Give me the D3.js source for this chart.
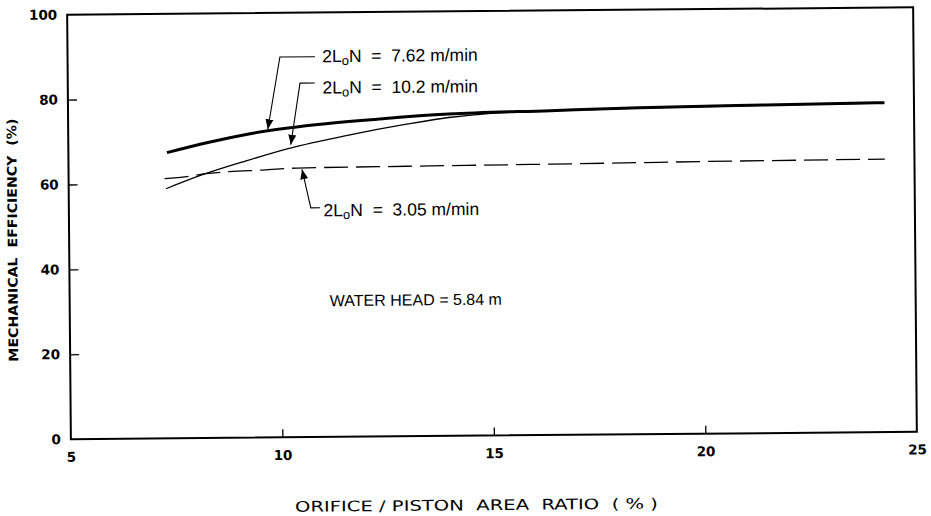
<!DOCTYPE html>
<html>
<head>
<meta charset="utf-8">
<script src="https://cdn.jsdelivr.net/npm/d3@7"></script>
<style>
  html, body { margin: 0; padding: 0; background: #fff; }
  svg { display: block; }
</style>
</head>
<body>
<svg id="chart" width="931" height="516"></svg>
<script>
// ---- data ----
const xTickValues = [5, 10, 15, 20, 25];
const yTickValues = [0, 20, 40, 60, 80, 100];

// 2LoN = 7.62 m/min (thick solid)
const ratio762 = [7.33, 8.3, 9.3, 10.9, 12.5, 14.0, 16.4, 18.5, 21.5, 24.3];
const eff762   = [67.3, 69.6, 71.6, 73.6, 74.9, 75.8, 76.4, 76.9, 77.3, 77.6];

// 2LoN = 10.2 m/min (thin solid)
const ratio102 = [7.3, 8.1, 9.2, 10.2, 11.6, 13.0, 14.0, 15.0, 16.4, 18.5, 21.5, 24.3];
const eff102   = [58.8, 61.8, 65.2, 68.0, 71.0, 73.5, 75.0, 75.9, 76.35, 76.85, 77.25, 77.5];

// 2LoN = 3.05 m/min (dashed)
const ratio305 = [7.27, 7.8, 8.2, 8.8, 9.6, 10.4, 13.0, 16.4, 20.0, 24.3];
const eff305   = [61.2, 61.6, 62.2, 62.7, 63.0, 63.4, 63.6, 63.8, 64.1, 64.3];

const seriesLabels = ["7.62 m/min", "10.2 m/min", "3.05 m/min"];

// ---- layout ----
const svg = d3.select("#chart");
const frame = { left: 69, right: 915, top: 11, bottom: 435.5 };
const cx = (frame.left + frame.right) / 2, cy = (frame.top + frame.bottom) / 2;

svg.append("rect").attr("width", 931).attr("height", 516).attr("fill", "#fff");

const x = d3.scaleLinear().domain([5, 25]).range([frame.left, frame.right]);
const y = d3.scaleLinear().domain([0, 100]).range([frame.bottom, frame.top]);

// the scanned figure is slightly tilted
const g = svg.append("g").attr("transform", `rotate(-0.5, ${cx}, ${cy})`);

// frame
g.append("rect")
  .attr("x", frame.left).attr("y", frame.top)
  .attr("width", frame.right - frame.left).attr("height", frame.bottom - frame.top)
  .attr("fill", "none").attr("stroke", "#000").attr("stroke-width", 2);

// axes
const tickFont = "'DejaVu Sans', sans-serif";
const yAxis = d3.axisLeft(y).tickValues(yTickValues).tickSizeInner(-9).tickSizeOuter(0).tickPadding(10);
const yg = g.append("g").attr("transform", `translate(${frame.left},0)`).call(yAxis);
yg.select(".domain").remove();
yg.selectAll(".tick line").attr("stroke", "#000").attr("stroke-width", 1.3)
  .filter(d => d === 0 || d === 100).remove();
yg.selectAll(".tick text").attr("font-family", tickFont).attr("font-weight", "bold")
  .attr("font-size", 13.5).attr("fill", "#000");

const xAxis = d3.axisBottom(x).tickValues(xTickValues).tickSizeInner(-8).tickSizeOuter(0).tickPadding(13);
const xg = g.append("g").attr("transform", `translate(0,${frame.bottom})`).call(xAxis);
xg.select(".domain").remove();
xg.selectAll(".tick line").attr("stroke", "#000").attr("stroke-width", 1.3)
  .filter(d => d === 5 || d === 25).remove();
xg.selectAll(".tick text").attr("font-family", tickFont).attr("font-weight", "bold")
  .attr("font-size", 13.5).attr("fill", "#000");

// curves
const line = d3.line().x(d => x(d[0])).y(d => y(d[1])).curve(d3.curveMonotoneX);
const zip = (a, b) => a.map((v, i) => [v, b[i]]);

g.append("path").datum(zip(ratio305, eff305)).attr("d", line)
  .attr("fill", "none").attr("stroke", "#000").attr("stroke-width", 1.3)
  .attr("stroke-dasharray", "24,8");
g.append("path").datum(zip(ratio102, eff102)).attr("d", line)
  .attr("fill", "none").attr("stroke", "#000").attr("stroke-width", 1.3);
g.append("path").datum(zip(ratio762, eff762)).attr("d", line)
  .attr("fill", "none").attr("stroke", "#000").attr("stroke-width", 3);

// arrow marker
svg.append("defs").append("marker")
  .attr("id", "arrow").attr("viewBox", "0 0 10 10").attr("refX", 10).attr("refY", 5)
  .attr("markerWidth", 10).attr("markerHeight", 10).attr("markerUnits", "userSpaceOnUse")
  .attr("orient", "auto")
  .append("path").attr("d", "M0,1 L10,5 L0,9 Z").attr("fill", "#000");

// annotations (positions in data units)
const annFont = "'Liberation Sans', Arial, sans-serif";
const annotations = [
  { label: seriesLabels[0], end: [10.85, 89.6], corner: [10.02, 89.6], tip: [9.72, 72.6], text: [11.02, 88.3] },
  { label: seriesLabels[1], end: [10.84, 83.4], corner: [10.49, 83.4], tip: [10.26, 68.9], text: [11.02, 80.9] },
  { label: seriesLabels[2], end: [10.94, 54.0], corner: [10.72, 54.0], tip: [10.52, 63.1], text: [11.02, 52.0] }
];
const nb = "\u00a0";
annotations.forEach(a => {
  g.append("path")
    .attr("d", `M${x(a.end[0])},${y(a.end[1])} L${x(a.corner[0])},${y(a.corner[1])} L${x(a.tip[0])},${y(a.tip[1])}`)
    .attr("fill", "none").attr("stroke", "#000").attr("stroke-width", 1.1)
    .attr("marker-end", "url(#arrow)");
  const t = g.append("text").attr("x", x(a.text[0])).attr("y", y(a.text[1]))
    .attr("font-family", annFont).attr("font-size", 17.5).attr("fill", "#000");
  t.append("tspan").text("2L");
  t.append("tspan").attr("font-size", 13).attr("dy", 3).text("o");
  t.append("tspan").attr("dy", -3).text("N" + nb + nb + "=" + nb + nb + a.label);
});

g.append("text").attr("x", x(11.15)).attr("y", y(30.8))
  .attr("font-family", annFont).attr("font-size", 16).attr("fill", "#000")
  .text("WATER HEAD = 5.84 m");

// axis titles
g.append("text")
  .attr("transform", `translate(17,${236}) rotate(-90)`)
  .attr("text-anchor", "middle")
  .attr("font-family", tickFont).attr("font-weight", "bold").attr("font-size", 13)
  .attr("textLength", 243).attr("lengthAdjust", "spacingAndGlyphs")
  .attr("fill", "#000")
  .text("MECHANICAL" + nb + nb + "EFFICIENCY" + nb + nb + "(%)");

g.append("text")
  .attr("x", 474).attr("y", 510)
  .attr("text-anchor", "middle")
  .attr("font-family", tickFont).attr("font-size", 14.5)
  .attr("textLength", 363).attr("lengthAdjust", "spacingAndGlyphs")
  .attr("fill", "#000")
  .text("ORIFICE / PISTON" + nb + nb + "AREA" + nb + nb + "RATIO" + nb + nb + "( % )");
</script>
</body>
</html>
